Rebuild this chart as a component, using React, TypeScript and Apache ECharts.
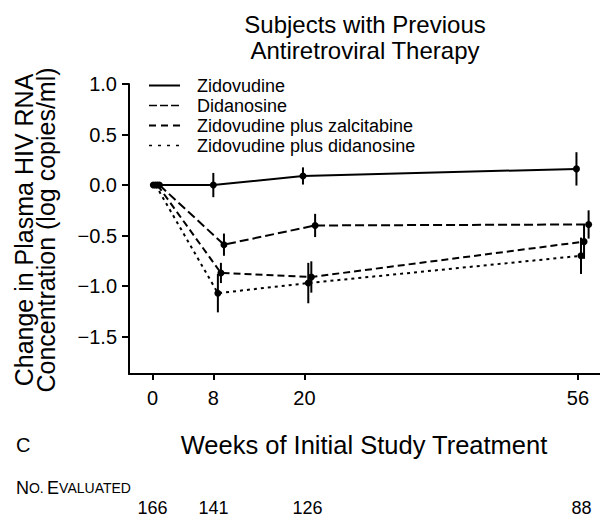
import React, { useEffect, useRef } from "react";
import * as echarts from "echarts";

const FONT = "'Liberation Sans', Arial, Helvetica, sans-serif";

const seriesNames = [
  "Zidovudine",
  "Didanosine",
  "Zidovudine plus zalcitabine",
  "Zidovudine plus didanosine",
];

// weeks (slightly offset per group, as in the figure), mean change, half error bar
const zidWeeks = [0.1, 8.0, 19.8, 55.8];
const zidValues = [0, 0.0, 0.09, 0.16];
const zidErr = [0, 0.12, 0.085, 0.165];

const ddiWeeks = [0.9, 9.4, 21.4, 57.4];
const ddiValues = [0, -0.59, -0.4, -0.39];
const ddiErr = [0, 0.11, 0.115, 0.14];

const zdvDdcWeeks = [0.65, 9.0, 20.9, 56.8];
const zdvDdcValues = [0, -0.87, -0.91, -0.56];
const zdvDdcErr = [0, 0.1, 0.155, 0.17];

const zdvDdiWeeks = [0.4, 8.6, 20.5, 56.4];
const zdvDdiValues = [0, -1.07, -0.97, -0.7];
const zdvDdiErr = [0, 0.19, 0.2, 0.18];

const weekTicks = [0, 8, 20, 56];
const yTicks = [-1.5, -1, -0.5, 0, 0.5, 1];
const evaluatedWeeks = ["166", "141", "126", "88"];

const lineTypes: any[] = ["solid", [9, 4], [7, 4], [3, 4]];
const legendDash: any[] = [null, [8, 3], [7, 5], [3, 6]];
const legendWidth = [2, 1.5, 2, 1.5];

export default function App() {
  const ref = useRef<HTMLDivElement>(null);
  useEffect(() => {
    if (!ref.current) return;
    const chart = echarts.init(ref.current, null, { renderer: "svg" });

    const groups = [
      [zidWeeks, zidValues, zidErr],
      [ddiWeeks, ddiValues, ddiErr],
      [zdvDdcWeeks, zdvDdcValues, zdvDdcErr],
      [zdvDdiWeeks, zdvDdiValues, zdvDdiErr],
    ];

    const lineSeries = groups.map((g, i) => ({
      name: seriesNames[i],
      type: "line",
      data: g[0].map((w, j) => [w, g[1][j]]),
      symbol: "circle",
      symbolSize: 7,
      showSymbol: true,
      itemStyle: { color: "#000" },
      lineStyle: { color: "#000", width: 2, type: lineTypes[i] },
      z: 3,
    }));

    const errData: number[][] = [];
    groups.forEach((g) => {
      g[0].forEach((w, j) => {
        if (g[2][j] > 0) errData.push([w, g[1][j] - g[2][j], g[1][j] + g[2][j]]);
      });
    });

    const errSeries = {
      type: "custom",
      data: errData,
      encode: { x: 0, y: [1, 2] },
      renderItem: (params: any, api: any) => {
        const p1 = api.coord([api.value(0), api.value(1)]);
        const p2 = api.coord([api.value(0), api.value(2)]);
        return {
          type: "line",
          shape: { x1: p1[0], y1: p1[1], x2: p2[0], y2: p2[1] },
          style: { stroke: "#000", lineWidth: 2 },
        };
      },
      z: 2,
    };

    const legendGraphics: any[] = [];
    const legendY = [85.5, 105.5, 125.5, 145.5];
    seriesNames.forEach((n, i) => {
      legendGraphics.push({
        type: "line",
        shape: { x1: 149, y1: legendY[i], x2: 180, y2: legendY[i] },
        style: {
          stroke: "#000",
          lineWidth: legendWidth[i],
          lineDash: legendDash[i] || undefined,
        },
      });
      legendGraphics.push({
        type: "text",
        x: 197,
        y: legendY[i],
        style: {
          text: n,
          fontSize: 18,
          lineHeight: 18,
          fontFamily: FONT,
          fill: "#000",
          align: "left",
          verticalAlign: "middle",
        },
      });
    });

    const evalX = [152.5, 213.5, 307.5, 581.5];
    const evalGraphics = evaluatedWeeks.map((t, i) => ({
      type: "text",
      x: evalX[i],
      y: 508,
      style: {
        text: t,
        fontSize: 18,
        lineHeight: 18,
        fontFamily: FONT,
        fill: "#000",
        align: "center",
        verticalAlign: "middle",
      },
    }));

    const option: any = {
      animation: false,
      grid: { left: 129, right: 0, top: 84, bottom: 144, containLabel: false },
      xAxis: {
        type: "value",
        min: -3.1,
        max: 58.9,
        axisLine: { onZero: false, lineStyle: { color: "#000", width: 2 } },
        axisTick: {
          show: true,
          customValues: weekTicks,
          length: 6,
          lineStyle: { color: "#000", width: 2 },
        },
        axisLabel: {
          customValues: weekTicks,
          fontSize: 20,
          fontFamily: FONT,
          color: "#000",
          margin: 14,
        },
        splitLine: { show: false },
      },
      yAxis: {
        type: "value",
        min: -1.87,
        max: 1.0,
        axisLine: { show: true, onZero: false, lineStyle: { color: "#000", width: 2 } },
        axisTick: {
          show: true,
          customValues: yTicks,
          length: 7,
          lineStyle: { color: "#000", width: 2 },
        },
        axisLabel: {
          customValues: yTicks,
          fontSize: 20,
          fontFamily: FONT,
          color: "#000",
          margin: 12,
          formatter: (v: number) =>
            v < 0 ? "\u2212" + Math.abs(v).toFixed(1) : v.toFixed(1),
        },
        splitLine: { show: false },
      },
      series: [errSeries, ...lineSeries],
      graphic: [
        {
          type: "text",
          x: 365,
          y: 37,
          style: {
            text: "Subjects with Previous\nAntiretroviral Therapy",
            fontSize: 24,
            lineHeight: 26,
            fontFamily: FONT,
            fill: "#000",
            align: "center",
            verticalAlign: "middle",
          },
        },
        {
          type: "text",
          x: 35,
          y: 230,
          rotation: Math.PI / 2,
          style: {
            text: "Change in Plasma HIV RNA\nConcentration (log copies/ml)",
            fontSize: 25,
            lineHeight: 22,
            fontFamily: FONT,
            fill: "#000",
            align: "center",
            verticalAlign: "middle",
          },
        },
        {
          type: "text",
          x: 364,
          y: 445,
          style: {
            text: "Weeks of Initial Study Treatment",
            fontSize: 25.5,
            fontFamily: FONT,
            fill: "#000",
            align: "center",
            verticalAlign: "middle",
          },
        },
        {
          type: "text",
          x: 16,
          y: 445,
          style: {
            text: "C",
            fontSize: 20,
            fontFamily: FONT,
            fill: "#000",
            align: "left",
            verticalAlign: "middle",
          },
        },
        {
          type: "text",
          x: 16,
          y: 488,
          style: {
            text: "{b|N}{s|O.} {b|E}{s|VALUATED}",
            fontFamily: FONT,
            fill: "#000",
            align: "left",
            verticalAlign: "middle",
            rich: {
              b: { fontSize: 18, fontFamily: FONT, fill: "#000" },
              s: { fontSize: 14, fontFamily: FONT, fill: "#000" },
            },
          },
        },
        ...evalGraphics,
        ...legendGraphics,
      ],
    };
    chart.setOption(option);
    return () => chart.dispose();
  }, []);
  return (
    <div
      ref={ref}
      style={{ position: "fixed", left: 0, top: 0, width: 600, height: 518, background: "#fff" }}
    />
  );
}
